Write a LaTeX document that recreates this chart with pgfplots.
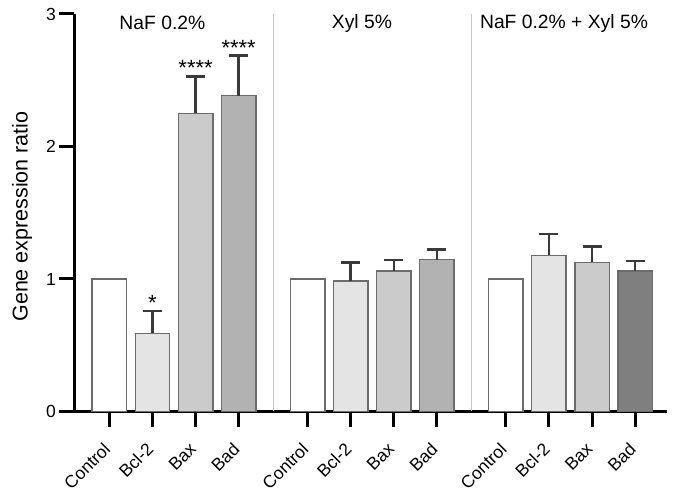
\documentclass[border=0pt]{standalone}
\usepackage{fontspec}
\setmainfont{Liberation Sans}
\usepackage{pgfplots}
\pgfplotsset{compat=1.18}
\definecolor{cA}{HTML}{E4E4E4}
\definecolor{cB}{HTML}{CBCBCB}
\definecolor{cC}{HTML}{B2B2B2}
\definecolor{cD}{HTML}{7F7F7F}
\definecolor{edge}{HTML}{6C6C6C}
\definecolor{errc}{HTML}{3A3A3A}
\definecolor{sepc}{HTML}{C8C8C8}
\begin{document}
\begin{tikzpicture}[x=1pt,y=1pt]
\useasboundingbox (-74.5,-91.5) rectangle (603.5,411.5);
\begin{axis}[at={(0,0)}, anchor=south west, scale only axis,
  width=592.5pt, height=397.5pt,
  xmin=-0.81, xmax=12.94, ymin=0, ymax=3,
  axis x line=bottom, axis y line=left,
  axis line style={-, line width=3pt, black},
  ytick={0,1,2,3},
  xtick={0,1,2,3,4.6,5.6,6.6,7.6,9.2,10.2,11.2,12.2},
  xticklabels={Control,Bcl-2,Bax,Bad,Control,Bcl-2,Bax,Bad,Control,Bcl-2,Bax,Bad},
  extra x ticks={3.8,8.4}, extra x tick labels={},
  extra x tick style={grid=major, major grid style={draw=sepc, line width=1.2pt}, major tick length=0pt},
  tick align=outside, major tick length=15pt,
  tick style={line width=3pt, black},
  x tick label style={xshift=-7pt, yshift=-10pt, rotate=45, anchor=north east, font=\fontsize{17.5}{20}\selectfont},
  y tick label style={font=\fontsize{17.5}{20}\selectfont},
  /pgf/number format/assume math mode=true,
  ylabel={Gene expression ratio},
  ylabel style={at={(axis description cs:-0.0886,0.4906)}, anchor=center, font=\fontsize{21.5}{24}\selectfont},
  clip=false,
  ybar, bar width=0.8, bar shift=0pt,
  every axis plot/.append style={draw=edge, line width=1.5pt},
  error bars/y dir=plus, error bars/y explicit,
  error bars/error bar style={line width=2.5pt, draw=errc},
  error bars/error mark options={rotate=90, line width=2.5pt, draw=errc, mark size=9.5pt},
]
\addplot[fill=white] coordinates {(0,1) (4.6,1) (9.2,1)};
\addplot[fill=cA] coordinates {(1,0.59) +- (0,0.168) (5.6,0.985) +- (0,0.138) (10.2,1.179) +- (0,0.161)};
\addplot[fill=cB] coordinates {(2,2.25) +- (0,0.28) (6.6,1.06) +- (0,0.083) (11.2,1.126) +- (0,0.118)};
\addplot[fill=cC] coordinates {(3,2.383) +- (0,0.302) (7.6,1.146) +- (0,0.078)};
\addplot[fill=cD] coordinates {(12.2,1.06) +- (0,0.076)};
\node[anchor=base, font=\fontsize{22}{24}\selectfont] at (axis cs:1,0.765) {*};
\node[anchor=base, font=\fontsize{22}{24}\selectfont] at (axis cs:2,2.535) {****};
\node[anchor=base, font=\fontsize{22}{24}\selectfont] at (axis cs:3,2.69) {****};
\node[font=\fontsize{19.3}{22}\selectfont] at (axis cs:1.23,2.93) {NaF 0.2\%};
\node[font=\fontsize{19.3}{22}\selectfont] at (axis cs:5.86,2.93) {Xyl 5\%};
\node[font=\fontsize{19.3}{22}\selectfont] at (axis cs:10.55,2.93) {NaF 0.2\% + Xyl 5\%};
\end{axis}
\end{tikzpicture}
\end{document}
